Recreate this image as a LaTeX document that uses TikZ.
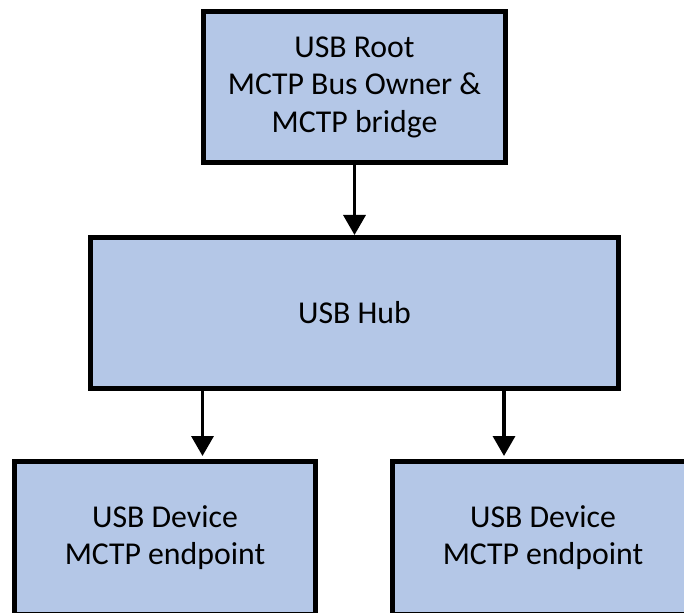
\documentclass[tikz,border=0pt]{standalone}
\usepackage{fontspec}
\setmainfont{Carlito}
\usetikzlibrary{arrows.meta, positioning}
\definecolor{usbblue}{HTML}{B4C7E7}

\begin{document}
\begin{tikzpicture}[x=1bp, y=-1bp,
    usbbox/.style={draw, line width=5bp, fill=usbblue, inner sep=0pt,
      align=center, font=\fontsize{31.8bp}{37.5bp}\selectfont},
    usbarrow/.style={line width=3.4bp, -{Triangle[width=22bp, length=20bp]}}]
  \clip (0, 0) rectangle (684, 613);

  \node[usbbox, minimum width=302bp, minimum height=151bp] (root) at (354.5, 87)
    {USB Root\\MCTP Bus Owner \&\\MCTP bridge};
  \node[usbbox, minimum width=528bp, minimum height=151bp] (hub) at (354.5, 313) {USB Hub};
  \node[usbbox, minimum width=301bp, minimum height=153bp] (dev_l) at (165, 537.5)
    {USB Device\\MCTP endpoint};
  \node[usbbox, minimum width=301bp, minimum height=153bp] (dev_r) at (543, 537.5)
    {USB Device\\MCTP endpoint};

  \coordinate (p_l) at (202.5, 0);
  \coordinate (p_r) at (504, 0);

  \draw[usbarrow] (root.south) -- (hub.north);
  \draw[usbarrow] (hub.south -| p_l) -- ([yshift=2.5bp]dev_l.north -| p_l);
  \draw[usbarrow] (hub.south -| p_r) -- ([yshift=2.5bp]dev_r.north -| p_r);
\end{tikzpicture}
\end{document}
